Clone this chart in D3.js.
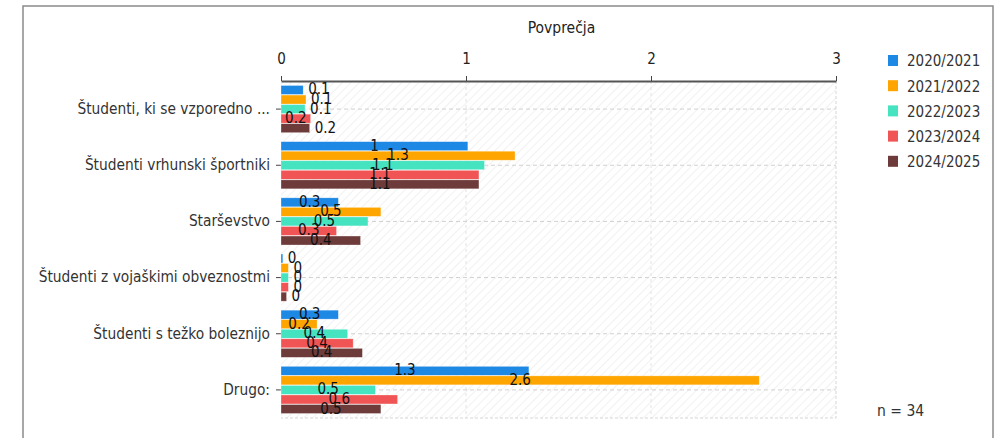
<!DOCTYPE html>
<html>
<head>
<meta charset="utf-8">
<script src="https://cdn.jsdelivr.net/npm/d3@7/dist/d3.min.js"></script>
<style>
html,body{margin:0;padding:0;background:#fff;}
svg{display:block;font-family:"DejaVu Sans Condensed","DejaVu Sans",sans-serif;}
</style>
</head>
<body>
<svg id="chart" width="1000" height="438"></svg>
<script>
const title = "Povprečja";
const categories = [
  "Študenti, ki se vzporedno ...",
  "Študenti vrhunski športniki",
  "Starševstvo",
  "Študenti z vojaškimi obveznostmi",
  "Študenti s težko boleznijo",
  "Drugo:"
];
const seriesNames = ["2020/2021","2021/2022","2022/2023","2023/2024","2024/2025"];
const seriesColors = ["#1e88e5","#ffa500","#46e3c1","#f15454","#6e3b3b"];
const s2020 = [0.12, 1.01, 0.31, 0.01, 0.31, 1.34];
const s2021 = [0.135, 1.265, 0.54, 0.04, 0.195, 2.585];
const s2022 = [0.13, 1.10, 0.47, 0.04, 0.36, 0.51];
const s2023 = [0.16, 1.07, 0.30, 0.04, 0.39, 0.63];
const s2024 = [0.155, 1.07, 0.43, 0.03, 0.44, 0.54];
const seriesValues = [s2020, s2021, s2022, s2023, s2024];
const xTicks = [0, 1, 2, 3];
const nText = "n = 34";

const FONT = "DejaVu Sans Condensed, DejaVu Sans, sans-serif";
const svg = d3.select("#chart");
const pL = 281, pR = 836, pT = 81, pB = 418;

// outer frame
svg.append("rect").attr("x",23).attr("y",6).attr("width",970).attr("height",460)
  .attr("fill","none").attr("stroke","#8a8a8a").attr("stroke-width",1.5);

const x = d3.scaleLinear().domain([0,3]).range([pL,pR]);
const y0 = d3.scaleBand().domain(categories).range([pT,pB]).paddingInner(0.16).paddingOuter(0.08);
const y1 = d3.scaleBand().domain(seriesNames).range([0,y0.bandwidth()]).paddingInner(0.06);

// hatch pattern
const defs = svg.append("defs");
const pat = defs.append("pattern").attr("id","hatch").attr("patternUnits","userSpaceOnUse")
  .attr("width",6).attr("height",6).attr("patternTransform","rotate(45)");
pat.append("rect").attr("width",6).attr("height",6).attr("fill","#fff");
pat.append("line").attr("x1",0).attr("y1",0).attr("x2",0).attr("y2",6)
  .attr("stroke","#ececec").attr("stroke-width",1.4);

svg.append("rect").attr("x",pL).attr("y",pT).attr("width",pR-pL).attr("height",pB-pT)
  .attr("fill","url(#hatch)");
svg.append("path").attr("d",`M${pR},${pT}V${pB}H${pL}`).attr("fill","none")
  .attr("stroke","#d6d6d6").attr("stroke-dasharray","3,2");

// vertical grid
svg.append("g").selectAll("line").data(xTicks.filter(t=>t>0 && t<3)).join("line")
  .attr("x1",d=>x(d)).attr("x2",d=>x(d)).attr("y1",pT).attr("y2",pB)
  .attr("stroke","#e2e2e2").attr("stroke-dasharray","3,3");
// horizontal grid at category centers
const yc = c => y0(c) + y0.bandwidth()/2;
svg.append("g").selectAll("line").data(categories).join("line")
  .attr("x1",pL).attr("x2",pR).attr("y1",d=>yc(d)).attr("y2",d=>yc(d))
  .attr("stroke","#d0d0d0").attr("stroke-dasharray","4,3");

// top axis
const xAxis = d3.axisTop(x).tickValues(xTicks).tickFormat(d3.format("d")).tickSize(5).tickSizeOuter(0);
const gx = svg.append("g").attr("transform",`translate(0,${pT})`).call(xAxis);
gx.select(".domain").attr("stroke","#555").attr("stroke-width",2);
gx.selectAll(".tick line").attr("stroke","#444");
gx.selectAll(".tick text").attr("font-size",15).attr("fill","#222").attr("dy","-0.6em")
  .attr("font-family",FONT);

// left axis (ticks only)
const yAxis = d3.axisLeft(y0).tickSize(5).tickPadding(6).tickSizeOuter(0);
const gy = svg.append("g").attr("transform",`translate(${pL},0)`).call(yAxis);
gy.select(".domain").remove();
gy.selectAll(".tick line").attr("stroke","#444");
gy.selectAll(".tick text").attr("font-size",15.3).attr("fill","#333")
  .attr("font-family",FONT);

// bars
const fmt = d3.format(".1~f");
const groups = svg.append("g").selectAll("g").data(categories).join("g")
  .attr("transform",c=>`translate(0,${y0(c)})`);
const items = groups.selectAll("g").data((c,ci)=>seriesNames.map((s,si)=>({s,si,v:seriesValues[si][ci]}))).join("g");
items.append("rect")
  .attr("x",x(0)).attr("y",d=>y1(d.s)).attr("width",d=>x(d.v)-x(0)).attr("height",y1.bandwidth())
  .attr("fill",d=>seriesColors[d.si]).attr("stroke","rgba(255,255,255,0.5)").attr("stroke-width",0.6);
items.append("text")
  .text(d=>fmt(d.v))
  .attr("y",d=>y1(d.s)+y1.bandwidth()/2)
  .attr("dy","0.3em")
  .attr("font-size",15).attr("fill","#111")
  .each(function(d){
    const w = x(d.v)-x(0);
    const t = d3.select(this);
    const tw = this.getComputedTextLength();
    if (w < tw + 8) { t.attr("x", x(d.v)+5).attr("text-anchor","start"); }
    else { t.attr("x", x(0)+w/2).attr("text-anchor","middle"); }
  });

// title
svg.append("text").attr("x",(pL+pR)/2+3).attr("y",33).attr("text-anchor","middle")
  .attr("font-size",15.5).attr("fill","#222").text(title);

// legend
const lg = svg.append("g").selectAll("g").data(seriesNames).join("g")
  .attr("transform",(d,i)=>`translate(888,${61+i*25.2})`);
lg.append("rect").attr("x",0).attr("y",-6).attr("width",10).attr("height",11)
  .attr("fill",(d,i)=>seriesColors[i]);
lg.append("text").attr("x",19).attr("dy","0.36em").attr("font-size",15).attr("fill","#333").text(d=>d);

// n
svg.append("text").attr("x",877).attr("y",410).attr("dy","0.36em").attr("font-size",15.5)
  .attr("fill","#333").text(nText);
</script>
</body>
</html>
